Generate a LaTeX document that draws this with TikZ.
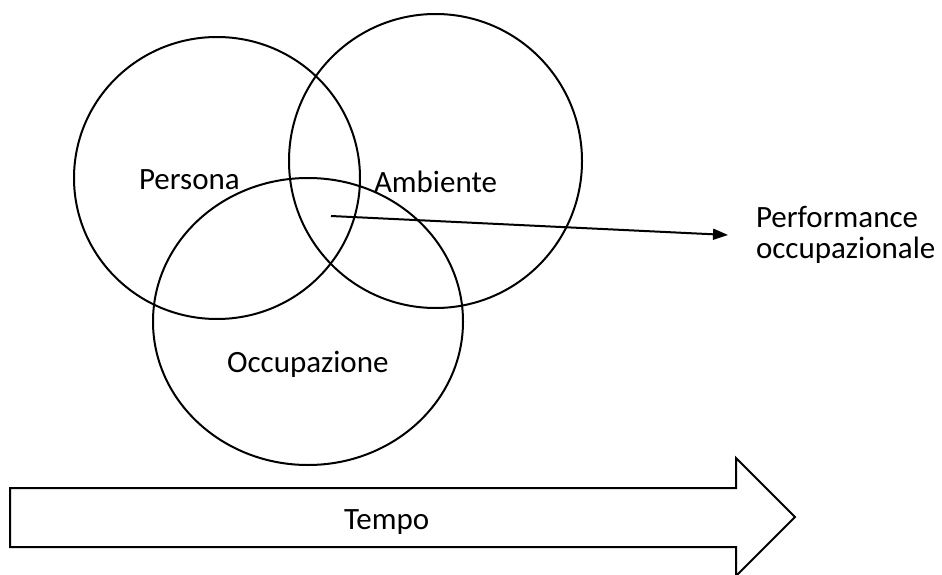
\documentclass[tikz,border=0pt]{standalone}
\usepackage{fontspec}
\setmainfont{Carlito}
\usetikzlibrary{shapes.geometric,arrows.meta}
\begin{document}
\begin{tikzpicture}[x=1pt,y=-1pt,line width=2pt,
  venn/.style={draw, ellipse, inner sep=0pt, line width=2pt},
  lbl/.style={anchor=base west, inner sep=0pt, font=\fontsize{31}{31}\selectfont},
  conn/.style={line width=2pt, -{Triangle[length=15pt,width=11pt]}},
  bigarrow/.style={draw, line width=2pt, line join=miter}]
\useasboundingbox (0,0) rectangle (942,575);
% circles
\node[venn, minimum width=286pt, minimum height=282pt] (persona) at (217,178) {};
\node[venn, minimum width=293pt, minimum height=294pt] (ambiente) at (435.5,161) {};
\node[venn, minimum width=310pt, minimum height=287pt] (occupazione) at (308,321.5) {};
% labels
\node[lbl] (tpersona) at (138,189) {Persona};
\node[lbl] (tambiente) at (373,192) {Ambiente};
\node[lbl] (toccupazione) at (226,372) {Occupazione};
\node[lbl] (perfA) at (755,227) {Performance};
\node[lbl] (perfB) at (755,258) {occupazionale};
% connector
\coordinate (start) at (331,216);
\coordinate (tip) at (728,235);
\draw[conn] (start) -- (tip);
% time arrow
\coordinate (b1) at (10,488);
\coordinate (b2) at (736,488);
\coordinate (h1) at (736,458);
\coordinate (h2) at (795,517);
\coordinate (h3) at (736,576);
\coordinate (b3) at (736,547);
\coordinate (b4) at (10,547);
\draw[bigarrow] (b1) -- (b2) -- (h1) -- (h2) -- (h3) -- (b3) -- (b4) -- cycle;
\node[lbl] (tempo) at (343,529) {Tempo};
\end{tikzpicture}
\end{document}
